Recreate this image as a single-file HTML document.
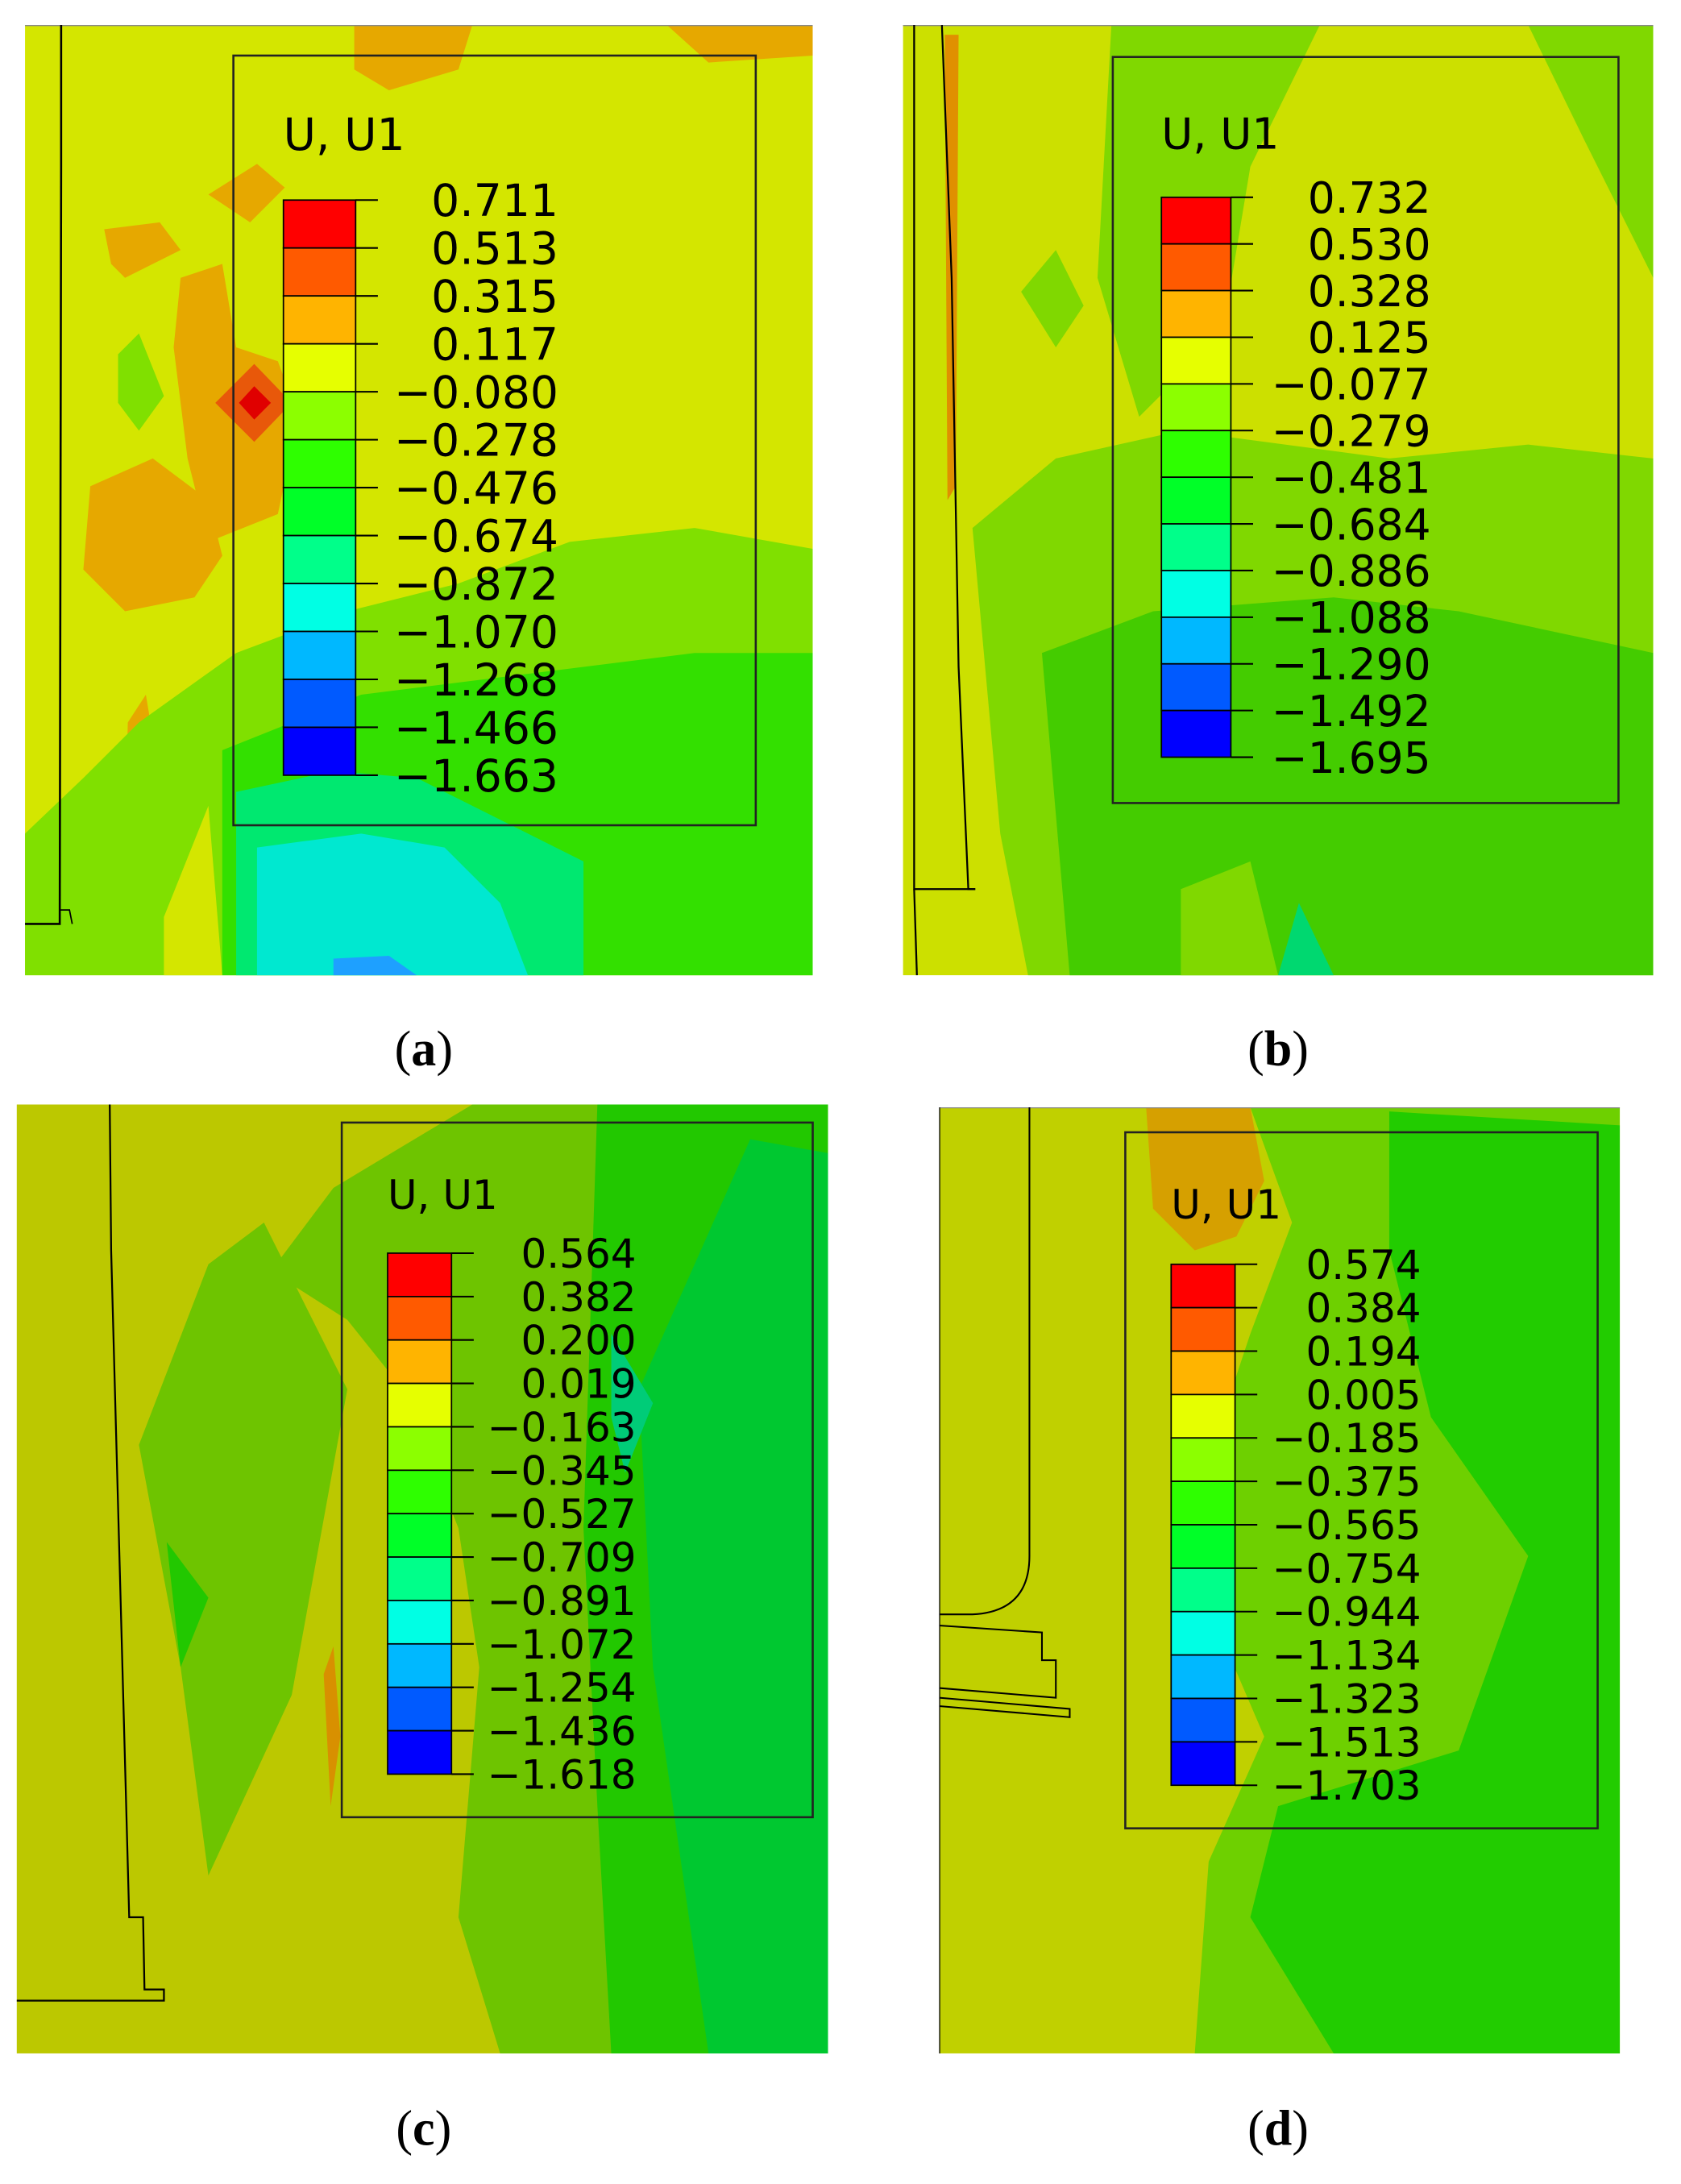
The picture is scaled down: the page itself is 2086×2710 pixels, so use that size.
<!DOCTYPE html>
<html><head><meta charset="utf-8"><style>
html,body{margin:0;padding:0;background:#fff;}
svg{display:block;}
.lbl{font-family:"DejaVu Sans","Liberation Sans",sans-serif;fill:#000;}
.cap{font-family:"Liberation Serif",serif;font-size:36px;fill:#000;}
</style></head><body>
<svg id="fig" width="2086" height="2710" viewBox="0 0 1210 1572" preserveAspectRatio="none" xmlns="http://www.w3.org/2000/svg">
<defs>
<clipPath id="ca"><rect x="18" y="18" width="567" height="684"/></clipPath>
<clipPath id="cb"><rect x="650" y="18" width="540" height="684"/></clipPath>
<clipPath id="cc"><rect x="12" y="795" width="584" height="683"/></clipPath>
<clipPath id="cd"><rect x="676" y="797" width="490" height="681"/></clipPath>
</defs>

<!-- Panel a -->
<g clip-path="url(#ca)">
<rect x="18" y="18" width="567" height="684" fill="#d4e600"/>
<polygon fill="#e6a800" points="255,18 340,18 330,50 280,65 255,50"/>
<polygon fill="#e6a800" points="480,18 585,18 585,40 510,45"/>
<polygon fill="#e6a800" points="150,140 185,118 205,135 180,160"/>
<polygon fill="#e6a800" points="75,165 115,160 130,180 90,200 80,190"/>
<polygon fill="#e6a800" points="130,200 160,190 170,250 200,260 215,300 200,370 150,390 135,330 125,250"/>
<polygon fill="#e6a800" points="65,350 110,330 150,360 160,400 140,430 90,440 60,410"/>
<polygon fill="#e6a800" points="92,520 105,500 115,560 110,700 95,700 90,600"/>
<polygon fill="#e6a800" points="165,330 180,310 200,340 180,360"/>
<polygon fill="#e8580a" points="155,290 183,262 210,290 183,318"/>
<polygon fill="#e00000" points="172,290 183,278 195,290 183,302"/>
<polygon fill="#80e000" points="85,255 100,240 118,285 100,310 85,290"/>
<polygon fill="#80e000" points="18,600 60,560 100,520 170,470 250,440 330,420 410,390 500,380 585,395 585,702 18,702"/>
<polygon fill="#33e000" points="160,540 260,500 340,490 420,480 500,470 585,470 585,702 160,702"/>
<polygon fill="#00e870" points="170,570 240,555 300,560 360,590 420,620 420,702 170,702"/>
<polygon fill="#00e8d0" points="185,610 260,600 320,610 360,650 380,702 185,702"/>
<polygon fill="#1ea0ff" points="240,690 280,688 300,702 240,702"/>
<polygon fill="#d4e600" points="118,660 150,580 160,702 118,702"/>
<line x1="18" y1="18" x2="585" y2="18" stroke="#888" stroke-width="1.5"/>
<polyline points="44,18 44,120 43,665 18,665" fill="none" stroke="#000" stroke-width="1.5"/>
<polyline points="43,655 50,655 52,665" fill="none" stroke="#000" stroke-width="1"/>
</g>
<rect x="168" y="40" width="376" height="554" fill="none" stroke="#222" stroke-width="1.5"/>

<!-- Panel b -->
<g clip-path="url(#cb)">
<rect x="650" y="18" width="540" height="684" fill="#cce000"/>
<polygon fill="#80d800" points="800,18 950,18 900,120 880,240 820,300 790,200"/>
<polygon fill="#80d800" points="735,210 760,180 780,220 760,250"/>
<polygon fill="#80d800" points="700,380 760,330 850,310 1000,330 1100,320 1190,330 1190,702 740,702 720,600"/>
<polygon fill="#80d800" points="1100,18 1190,18 1190,200 1140,100"/>
<polygon fill="#44cc00" points="750,470 830,440 960,430 1050,440 1190,470 1190,702 770,702"/>
<polygon fill="#80d800" points="850,640 900,620 920,702 850,702"/>
<polygon fill="#00d870" points="920,702 935,650 960,702"/>
<line x1="650" y1="18" x2="1190" y2="18" stroke="#888" stroke-width="1.5"/>
<polygon fill="#e09000" points="680,25 690,25 688,350 682,360"/>
<polyline points="678,18 685,200 690,480 697,640 702,640" fill="none" stroke="#000" stroke-width="1.3"/>
<polyline points="658,18 658,640 702,640" fill="none" stroke="#000" stroke-width="1.3"/>
<polyline points="658,640 660,702" fill="none" stroke="#000" stroke-width="1.3"/>
</g>
<rect x="801" y="41" width="364" height="537" fill="none" stroke="#222" stroke-width="1.5"/>

<!-- Panel c -->
<g clip-path="url(#cc)">
<rect x="12" y="795" width="584" height="683" fill="#bcc800"/>
<polygon fill="#6ec400" points="195,915 240,855 340,795 596,795 596,1478 360,1478 330,1380 345,1200 330,1100 290,1000 250,950"/>
<polygon fill="#6ec400" points="100,1040 150,910 190,880 250,1000 210,1220 150,1350 130,1200"/>
<polygon fill="#22c800" points="430,795 596,795 596,1478 440,1478 430,1300 420,1100"/>
<polygon fill="#00c830" points="540,820 596,830 596,1478 510,1478 470,1200 460,1000"/>
<polygon fill="#22c800" points="120,1110 150,1150 130,1200"/>
<polygon fill="#00cc78" points="440,960 470,1010 450,1060 440,1020"/>
<polygon fill="#d89000" points="233,1205 240,1185 245,1250 238,1300"/>
<polyline points="79,795 80,900 93,1380 103,1380 104,1432 118,1432 118,1440 12,1440" fill="none" stroke="#000" stroke-width="1.3"/>
</g>
<rect x="246" y="808" width="339" height="500" fill="none" stroke="#222" stroke-width="1.5"/>

<!-- Panel d -->
<g clip-path="url(#cd)">
<rect x="676" y="797" width="490" height="681" fill="#c0d000"/>
<polygon fill="#d6a000" points="825,797 900,797 910,850 890,890 860,900 830,870"/>
<polygon fill="#6ed000" points="900,797 1166,797 1166,1478 860,1478 870,1340 910,1250 880,1180 870,1050 900,960 930,880"/>
<polygon fill="#22cc00" points="1000,800 1166,810 1166,1478 960,1478 900,1380 920,1300 1050,1260 1100,1120 1030,1020 1000,900"/>
<line x1="676" y1="797" x2="1166" y2="797" stroke="#888" stroke-width="1.5"/>
<polyline points="676,797 676,1478" fill="none" stroke="#000" stroke-width="1.5"/>
<path d="M741,797 L741,1120 Q741,1160 700,1162 L676,1162" fill="none" stroke="#000" stroke-width="1.2"/>
<polyline points="676,1170 750,1175 750,1195 760,1195 760,1222 676,1215" fill="none" stroke="#000" stroke-width="1.2"/>
<polyline points="676,1222 770,1230 770,1236 676,1228" fill="none" stroke="#000" stroke-width="1.2"/>
</g>
<rect x="810" y="815" width="340" height="501" fill="none" stroke="#222" stroke-width="1.5"/>

<g id="legends"></g>

<text class="cap" x="305" y="767" text-anchor="middle">(<tspan font-weight="bold">a</tspan>)</text>
<text class="cap" x="920" y="767" text-anchor="middle">(<tspan font-weight="bold">b</tspan>)</text>
<text class="cap" x="305" y="1544" text-anchor="middle">(<tspan font-weight="bold">c</tspan>)</text>
<text class="cap" x="920" y="1544" text-anchor="middle">(<tspan font-weight="bold">d</tspan>)</text>
</svg>
<script>
const bandColors = ["#ff0000","#ff5a00","#ffb400","#e6ff00","#8cff00","#2eff00","#00ff28","#00ff8a","#00ffe4","#00b8ff","#005aff","#0000ff"];
const labelsA = ["0.711","0.513","0.315","0.117","−0.080","−0.278","−0.476","−0.674","−0.872","−1.070","−1.268","−1.466","−1.663"];
const labelsB = ["0.732","0.530","0.328","0.125","−0.077","−0.279","−0.481","−0.684","−0.886","−1.088","−1.290","−1.492","−1.695"];
const labelsC = ["0.564","0.382","0.200","0.019","−0.163","−0.345","−0.527","−0.709","−0.891","−1.072","−1.254","−1.436","−1.618"];
const labelsD = ["0.574","0.384","0.194","0.005","−0.185","−0.375","−0.565","−0.754","−0.944","−1.134","−1.323","−1.513","−1.703"];
const NS = "http://www.w3.org/2000/svg";
const root = document.getElementById("legends");
function mk(tag, attrs){const e=document.createElementNS(NS,tag);for(const k in attrs)e.setAttribute(k,attrs[k]);return e;}
function legend(id, labels, x, w, top, bottom, fs, textEnd, titleY){
  const g = mk("g",{});
  
  
  const n = bandColors.length;
  const h = (bottom - top) / n;
  const yOf = i => top + i * h;
  const t = mk("text",{x:x, y:titleY, class:"lbl", "font-size":fs});
  
  
  t.textContent = "U, U1";
  g.appendChild(t);
  bandColors.forEach((c,i)=>{
    const r = mk("rect",{x:x, y:yOf(i), width:w, height:h, fill:c, stroke:"#000","stroke-width":1});
    
    
    g.appendChild(r);
  });
  labels.forEach((s,i)=>{
    const y = yOf(i);
    const l = mk("line",{x1:x+w, y1:y, x2:x+w+16, y2:y, stroke:"#000","stroke-width":1.2});
    
    
    g.appendChild(l);
    const tx = mk("text",{x:textEnd, y:y+fs*0.36, class:"lbl","font-size":fs,"text-anchor":"end"});
    
    
    tx.textContent = s;
    g.appendChild(tx);
  });
  root.appendChild(g);
}
legend("a", labelsA, 204, 52, 144, 558, 32, 402, 108);
legend("b", labelsB, 836, 50, 142, 545, 31, 1030, 107);
legend("c", labelsC, 279, 46, 902, 1277, 29, 458, 870);
legend("d", labelsD, 843, 46, 910, 1285, 29, 1023, 877);
</script>
</body></html>
